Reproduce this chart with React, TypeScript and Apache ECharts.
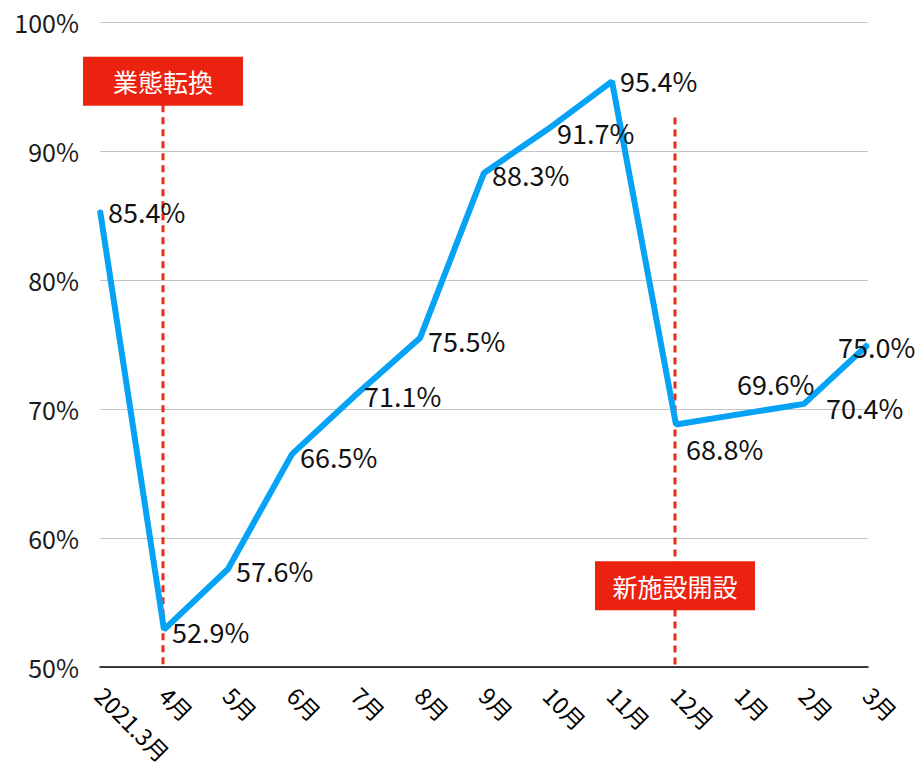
import React, { useEffect, useRef } from "react";
import * as echarts from "echarts";

const categories = ["2021.3月", "4月", "5月", "6月", "7月", "8月", "9月", "10月", "11月", "12月", "1月", "2月", "3月"];
const values = [85.4, 52.9, 57.6, 66.5, 71.1, 75.5, 88.3, 91.7, 95.4, 68.8, 69.6, 70.4, 75.0];
const yTicks = { min: 50, max: 100, interval: 10 };

// label nudges (style only)
const labelOffsets: number[][] = [
  [0, 1], [0, 2], [0, 2], [0, 2], [0, 1], [0, 2], [0, 2], [1, 3], [0, -1], [2, 24], [-11, -31], [14, 4], [-38, 2],
];

const annotations = [
  { text: "業態転換", index: 1, boxCenter: 95.4, lineTop: 95.4 },
  { text: "新施設開設", index: 9, boxCenter: 56.3, lineTop: 92.6 },
];

const FONT = "'Noto Sans CJK JP', 'Noto Sans', sans-serif";
const BLUE = "#05a2f5";
const RED = "#ec2210";

export default function App() {
  const ref = useRef<HTMLDivElement>(null);
  useEffect(() => {
    if (!ref.current) return;
    const chart = echarts.init(ref.current, null, { renderer: "svg" });
    chart.setOption({
      animation: false,
      backgroundColor: "#fff",
      grid: { left: 100, right: 49, top: 22, bottom: 112 },
      xAxis: {
        type: "category",
        data: categories,
        boundaryGap: false,
        axisLine: { lineStyle: { color: "#000", width: 1.5 } },
        axisTick: { show: false },
        axisLabel: { rotate: -45, fontSize: 23, color: "#000", margin: 24, interval: 0, fontFamily: FONT },
        splitLine: { show: false },
      },
      yAxis: {
        type: "value",
        min: yTicks.min,
        max: yTicks.max,
        interval: yTicks.interval,
        axisLine: { show: false },
        axisTick: { show: false },
        axisLabel: { formatter: "{value}%", fontSize: 25, color: "#1a1a1a", margin: 21, fontFamily: FONT },
        splitLine: { lineStyle: { color: "#c4c4c4", width: 1 } },
      },
      series: [
        {
          type: "line",
          data: values.map((v, i) => ({ value: v, label: { offset: labelOffsets[i] } })),
          symbol: "circle",
          symbolSize: 2,
          itemStyle: { color: BLUE },
          lineStyle: { color: BLUE, width: 6 },
          label: {
            show: true,
            position: "right",
            distance: 7,
            fontSize: 27,
            color: "#111",
            fontFamily: FONT,
            formatter: (p: any) => Number(p.value).toFixed(1) + "%",
          },
          z: 3,
        },
      ],
    });

    const graphics: any[] = [];
    annotations.forEach((a) => {
      const [x, yTop] = chart.convertToPixel({ gridIndex: 0 }, [a.index, a.lineTop]) as number[];
      const [, yBottom] = chart.convertToPixel({ gridIndex: 0 }, [a.index, yTicks.min]) as number[];
      const [, yBox] = chart.convertToPixel({ gridIndex: 0 }, [a.index, a.boxCenter]) as number[];
      graphics.push({
        type: "line",
        shape: { x1: x - 1, y1: yTop, x2: x - 1, y2: yBottom },
        style: { stroke: "#f2291a", lineWidth: 3, lineDash: [7, 5] },
        z: 1,
      });
      graphics.push({
        type: "rect",
        shape: { x: x - 81, y: yBox - 24.5, width: 160, height: 49 },
        style: { fill: RED },
        z: 10,
      });
      graphics.push({
        type: "text",
        x: x - 1,
        y: yBox,
        style: {
          text: a.text,
          fill: "#fff",
          fontSize: 25,
          fontFamily: FONT,
          align: "center",
          verticalAlign: "middle",
        },
        z: 11,
      });
    });
    chart.setOption({ graphic: graphics });

    return () => chart.dispose();
  }, []);
  return <div ref={ref} style={{ position: "absolute", left: 0, top: 0, width: 917, height: 779 }} />;
}
